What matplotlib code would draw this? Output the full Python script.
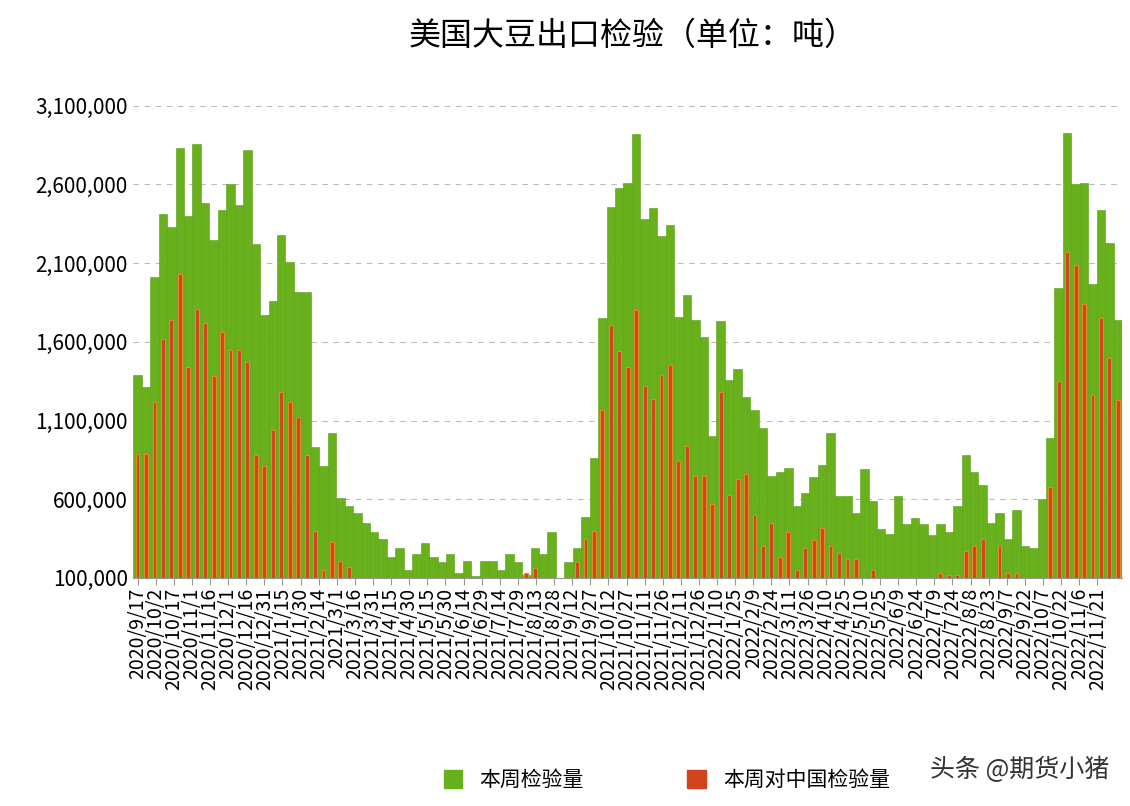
import datetime as dt
import numpy as np
import matplotlib
matplotlib.use("Agg")
import matplotlib.pyplot as plt
import matplotlib.ticker as ticker
from matplotlib.patches import Patch

plt.rcParams['font.family'] = ['Noto Sans CJK SC', 'DejaVu Sans']

start = dt.date(2020, 9, 17)

# weekly inspections, million tonnes
total = [1.39, 1.31, 2.01, 2.41, 2.33, 2.83, 2.40, 2.86, 2.48, 2.25, 2.44, 2.60, 2.47, 2.82,
         2.22, 1.77, 1.86, 2.28, 2.11, 1.92, 1.92, 0.93, 0.81, 1.02, 0.61, 0.56, 0.51, 0.45,
         0.39, 0.35, 0.23, 0.29, 0.15, 0.25, 0.32, 0.23, 0.20, 0.25, 0.13, 0.21, 0.11, 0.21,
         0.21, 0.15, 0.25, 0.20, 0.12, 0.29, 0.25, 0.39, 0.10, 0.20, 0.29, 0.49, 0.86, 1.75,
         2.46, 2.58, 2.61, 2.92, 2.38, 2.45, 2.27, 2.34, 1.76, 1.90, 1.74, 1.63, 1.00, 1.73,
         1.36, 1.43, 1.25, 1.17, 1.05, 0.75, 0.77, 0.80, 0.56, 0.64, 0.74, 0.82, 1.02, 0.62,
         0.62, 0.51, 0.79, 0.59, 0.41, 0.38, 0.62, 0.44, 0.48, 0.44, 0.37, 0.44, 0.39, 0.56,
         0.88, 0.77, 0.69, 0.45, 0.51, 0.35, 0.53, 0.30, 0.29, 0.60, 0.99, 1.94, 2.93, 2.60,
         2.61, 1.97, 2.44, 2.23, 1.74]
china = [0.89, 0.89, 1.22, 1.62, 1.74, 2.03, 1.44, 1.81, 1.72, 1.38, 1.66, 1.55, 1.55, 1.47,
         0.88, 0.81, 1.04, 1.28, 1.22, 1.12, 0.88, 0.40, 0.15, 0.33, 0.21, 0.17, 0.10, 0.05,
         0.05, 0.05, 0.05, 0.05, 0.05, 0.05, 0.05, 0.05, 0.05, 0.05, 0.05, 0.05, 0.05, 0.05,
         0.05, 0.05, 0.05, 0.05, 0.13, 0.16, 0.05, 0.05, 0.05, 0.05, 0.20, 0.35, 0.40, 1.17,
         1.71, 1.54, 1.44, 1.80, 1.32, 1.24, 1.39, 1.45, 0.84, 0.94, 0.75, 0.75, 0.57, 1.28,
         0.63, 0.73, 0.76, 0.50, 0.30, 0.45, 0.23, 0.39, 0.15, 0.29, 0.34, 0.42, 0.30, 0.26,
         0.22, 0.22, 0.10, 0.15, 0.05, 0.05, 0.05, 0.05, 0.05, 0.05, 0.05, 0.13, 0.12, 0.12,
         0.27, 0.30, 0.35, 0.05, 0.30, 0.13, 0.13, 0.05, 0.05, 0.05, 0.68, 1.35, 2.17, 2.09,
         1.84, 1.26, 1.75, 1.50, 1.23]

total = np.array(total) * 1e6
china = np.array(china) * 1e6
days = np.arange(len(total)) * 7

# date labels every 15 days (last one 2022/11/21)
tick_days = np.arange(0, days[-1] - 7, 15)
tick_labels = [(lambda d: f"{d.year}/{d.month}/{d.day}")(start + dt.timedelta(days=int(t)))
               for t in tick_days]

fig = plt.figure(figsize=(11.3, 8.06), dpi=100)
ax = fig.add_axes([0.118, 0.283, 0.875, 0.615])

ax.bar(days, total, width=7, color="#68b11c", edgecolor="#5a9e14", linewidth=0.4)
ax.bar(days, china, width=3.2, color="#d2451c", edgecolor="#e08a2a", linewidth=0.8)

ax.set_xlim(-3.5, days[-1] + 3.5)
ax.set_ylim(100000, 3250000)
ax.set_yticks(np.arange(100000, 3100001, 500000))
ax.yaxis.set_major_formatter(ticker.FuncFormatter(lambda v, p: f"{int(v):,}"))
ax.grid(axis="y", linestyle=(0, (5, 5)), color="#bbbbbb", linewidth=0.8)
ax.set_axisbelow(True)
for s in ["top", "right", "left"]:
    ax.spines[s].set_visible(False)
ax.spines["bottom"].set_color("#999999")
ax.tick_params(axis="y", length=0, labelsize=15, pad=4)
ax.set_xticks(tick_days)
ax.set_xticklabels(tick_labels, rotation=90, fontsize=14)
ax.tick_params(axis="x", length=5, color="#999999", pad=2)

fig.text(0.56, 0.955, "美国大豆出口检验（单位：吨）", ha="center", va="center", fontsize=23)

handles = [Patch(color="#68b11c", label="本周检验量"), Patch(color="#d2451c", label="本周对中国检验量")]
fig.legend(handles=handles, loc="lower center", bbox_to_anchor=(0.59, -0.005), ncol=2,
           frameon=False, fontsize=15, handlelength=0.9, handleheight=0.9, columnspacing=5)
fig.text(0.982, 0.045, "头条 @期货小猪", ha="right", va="center", fontsize=18, color="#333333")

fig.savefig("out.png", dpi=100)
